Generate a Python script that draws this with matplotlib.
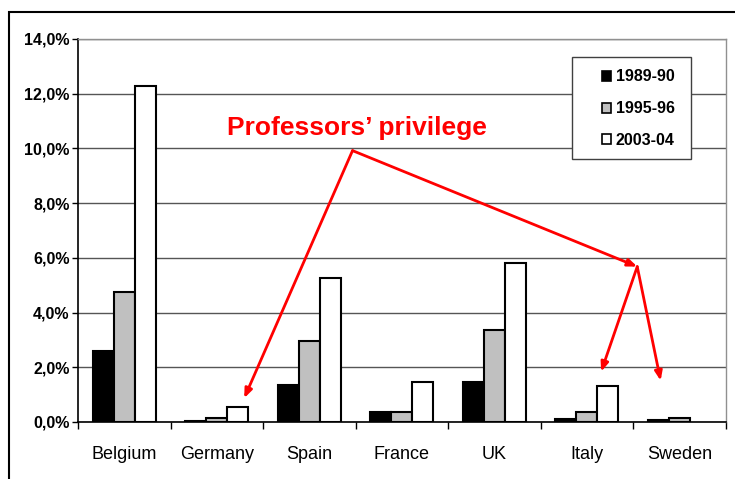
import matplotlib
matplotlib.use("Agg")
import matplotlib.pyplot as plt
from matplotlib.patches import Rectangle, Patch
import numpy as np

plt.rcParams['font.family'] = ['Liberation Sans', 'DejaVu Sans']

countries = ["Belgium", "Germany", "Spain", "France", "UK", "Italy", "Sweden"]
s1989 = [2.60, 0.05, 1.35, 0.38, 1.46, 0.10, 0.08]
s1995 = [4.76, 0.16, 2.95, 0.35, 3.36, 0.37, 0.16]
s2003 = [12.28, 0.54, 5.25, 1.47, 5.81, 1.31, 0.0]
series_labels = ["1989-90", "1995-96", "2003-04"]
yticks = [0, 2, 4, 6, 8, 10, 12, 14]
ytick_labels = ["0,0%", "2,0%", "4,0%", "6,0%", "8,0%", "10,0%", "12,0%", "14,0%"]

fig = plt.figure(figsize=(7.35, 4.79), dpi=100)
ax = fig.add_axes([78/735, 1-422/479, (725.7-78)/735, (422-39)/479])

x = np.arange(len(countries))
w = 0.227
colors = ["#000000", "#C0C0C0", "#FFFFFF"]
for i, (vals, c, lab) in enumerate(zip([s1989, s1995, s2003], colors, series_labels)):
    vals_arr = np.array(vals)
    mask = vals_arr > 0
    ax.bar(x[mask] + (i-1)*w, vals_arr[mask], width=w, color=c, edgecolor="black",
           linewidth=1.5, zorder=3, label=lab)

ax.set_xlim(-0.5, len(countries)-0.5)
ax.set_ylim(0, 14)
ax.set_yticks(yticks)
ax.set_yticklabels(ytick_labels, fontsize=11.5, fontweight='bold')
ax.set_xticks(x)
ax.set_xticklabels(countries, fontsize=13)
ax.set_xticks(np.arange(-0.5, len(countries)), minor=True)
ax.tick_params(axis='x', which='major', length=0, pad=17)
ax.tick_params(axis='x', which='minor', length=5, width=1, color='black')
ax.tick_params(axis='y', length=4, width=1, pad=2)

ax.yaxis.grid(True, color="#555555", linewidth=1, zorder=0)
ax.set_axisbelow(True)
for s in ['left', 'bottom']:
    ax.spines[s].set_color('black')
    ax.spines[s].set_linewidth(1.2)
for s in ['right', 'top']:
    ax.spines[s].set_color('#909090')
    ax.spines[s].set_linewidth(1)

# legend box
box = Rectangle((0.763, 0.687), 0.947-0.763, 0.952-0.687, transform=ax.transAxes,
                facecolor='white', edgecolor='#404040', linewidth=1, zorder=4)
ax.add_patch(box)
handles = [Patch(facecolor=c, edgecolor='black', linewidth=1.2) for c in colors]
leg = ax.legend(handles, series_labels, loc='center', bbox_to_anchor=(0.865, 0.818),
                prop={'weight': 'bold', 'size': 11.5}, frameon=False,
                handlelength=0.6, handleheight=0.6, handletextpad=0.3, labelspacing=1.05,
                borderpad=0, borderaxespad=0)
leg.set_zorder(5)

red = "#FF0000"
ax.text(2.52, 10.75, "Professors\u2019 privilege", color=red, fontsize=19, fontweight='bold',
        ha='center', va='center', zorder=5)

arrow_kw = dict(arrowstyle='-|>,head_length=0.55,head_width=0.22', color=red, lw=2, shrinkA=0, shrinkB=0)
start = (2.467, 9.92)
mid = (5.544, 5.68)
ax.annotate("", xy=(1.296, 0.87), xytext=start, arrowprops=arrow_kw, zorder=6)
ax.annotate("", xy=mid, xytext=start, arrowprops=arrow_kw, zorder=6)
ax.annotate("", xy=(5.154, 1.84), xytext=mid, arrowprops=arrow_kw, zorder=6)
ax.annotate("", xy=(5.797, 1.51), xytext=mid, arrowprops=arrow_kw, zorder=6)

border = Rectangle((9/735, -0.1), 1.2, 1 - 12/479 + 0.1, transform=fig.transFigure,
                   fill=False, edgecolor='black', linewidth=1.5, clip_on=False)
fig.patches.append(border)

fig.savefig("out.png", dpi=100)
